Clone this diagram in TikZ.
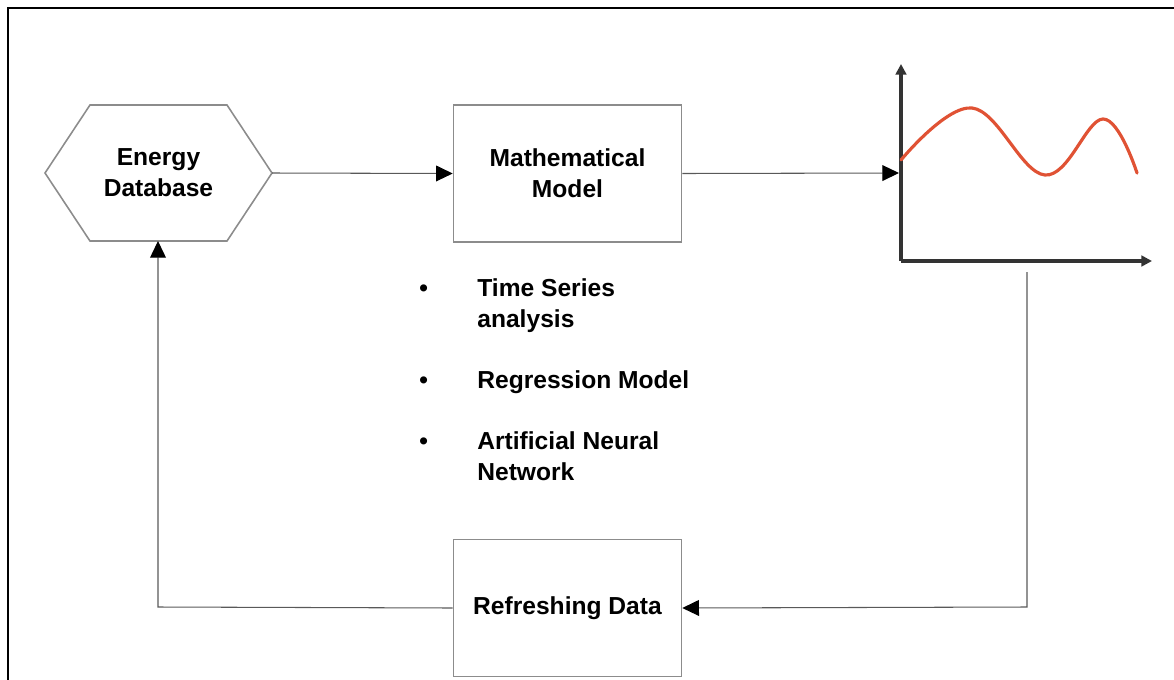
\documentclass[tikz,border=0pt]{standalone}
\usepackage{fontspec}
\setmainfont{Liberation Sans}
\usetikzlibrary{arrows.meta,shapes.geometric}
\begin{document}
\begin{tikzpicture}[x=0.02cm,y=-0.02cm,
  every node/.style={font=\bfseries\fontsize{14}{17.6}\selectfont, text=black},
  boxnode/.style={draw=gray!90, line width=0.9pt, minimum width=228*0.02cm, minimum height=137*0.02cm, align=center, inner sep=0pt},
  conn/.style={draw=black!65, line width=0.6pt},
  arr/.style={conn, -{Triangle[length=9.5pt,width=9pt,color=black]}},
  axis/.style={draw=black!80, line width=2.2pt, -{Triangle[length=6pt,width=6pt]}},
  listtext/.style={anchor=base west, align=left, inner sep=0pt}
]
\useasboundingbox (0,0) rectangle (1174,680);
% frame (only top and left visible)
\draw[line width=1.3pt] (1174,8) -- (8,8) -- (8,680);

% hexagon
\draw[draw=gray!90, line width=0.9pt] (45,173) -- (90,105) -- (227,105) -- (272,173) -- (227,241) -- (90,241) -- cycle;
\node[align=center, inner sep=0pt] (db) at (158.5,173) {Energy\\Database};
\coordinate (dbR) at (272,173);
\coordinate (dbB) at (158,241);

% mathematical model
\node[boxnode] (mm) at (567.5,173.5) {Mathematical\\Model};

% refreshing data
\node[boxnode] (rd) at (567.5,608) {Refreshing Data};

% chart
\coordinate (orig) at (901,261);
\coordinate (ytop) at (901,64);
\coordinate (xend) at (1152,261);
\coordinate (chartIn) at (899,173);
\draw[axis] (orig) -- (ytop);
\draw[axis] (orig) -- (xend);
\draw[color={rgb,255:red,224;green,82;blue,52}, line width=1.8pt, line cap=round]
  plot[smooth, tension=0.65] coordinates {(901,160) (972,108) (1045,175) (1103,119) (1137,173)};

% connectors
\draw[arr] (dbR) -- (mm.west);
\draw[arr] (mm.east) -- (chartIn);
\coordinate (down) at (1027,272);
\coordinate (corner1) at (1027,607);
\draw[arr] (down) -- (corner1) -- (rd.east);
\coordinate (corner2) at (158,607);
\draw[arr] (rd.west) -- (corner2) -- (dbB);

% bullet list
\node[listtext] (b1) at (419,296) {\textbullet};
\node[listtext] (t1) at (477,327) {Time Series\\analysis};
\node[listtext] (b2) at (419,388) {\textbullet};
\node[listtext] (t2) at (477,388) {Regression Model};
\node[listtext] (b3) at (419,449) {\textbullet};
\node[listtext] (t3) at (477,480) {Artificial Neural\\Network};
\end{tikzpicture}
\end{document}
